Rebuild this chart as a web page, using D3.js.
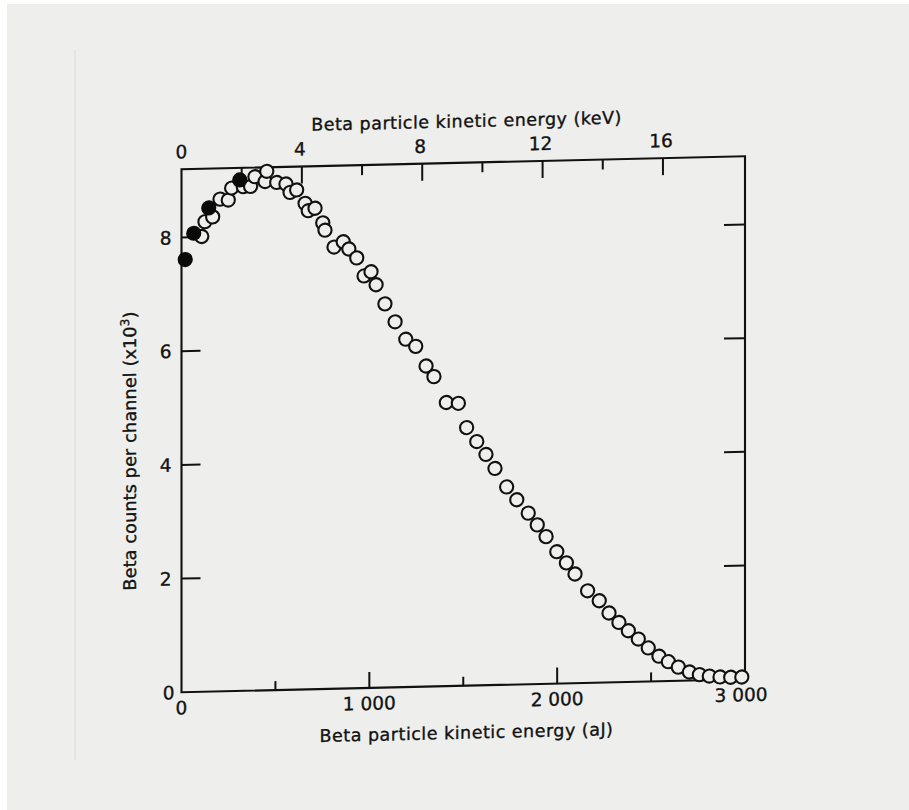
<!DOCTYPE html>
<html>
<head>
<meta charset="utf-8">
<script src="https://cdn.jsdelivr.net/npm/d3@7"></script>
<style>
  body { margin: 0; background: #ffffff; }
  text { font-family: "DejaVu Sans", sans-serif; fill: #121212; stroke: #121212; stroke-width: 0.35px; }
</style>
</head>
<body>
<div id="chart"></div>
<script>
// open circles: energy (aJ) and counts per channel (x10^3)
const openEnergy = [108, 125, 166, 205, 249, 267, 329, 368, 391, 445, 454, 507, 556, 578, 613,
  658, 675, 711, 752, 764, 812, 861, 891, 933, 972, 1009, 1036, 1083, 1137, 1194, 1247, 1302,
  1344, 1410, 1474, 1518, 1572, 1621, 1669, 1731, 1785, 1846, 1894, 1941, 1998, 2049, 2095,
  2162, 2224, 2276, 2329, 2379, 2432, 2485, 2542, 2592, 2645, 2704, 2757, 2810, 2867, 2924, 2983];
const openCounts = [8.01, 8.27, 8.35, 8.66, 8.64, 8.85, 8.87, 8.87, 9.04, 8.95, 9.13, 8.93, 8.90,
  8.75, 8.79, 8.55, 8.42, 8.46, 8.20, 8.07, 7.77, 7.86, 7.73, 7.57, 7.25, 7.32, 7.09, 6.75, 6.43,
  6.12, 5.99, 5.64, 5.45, 4.99, 4.97, 4.54, 4.29, 4.06, 3.81, 3.48, 3.25, 3.01, 2.80, 2.59, 2.32,
  2.12, 1.92, 1.62, 1.44, 1.22, 1.05, 0.90, 0.75, 0.59, 0.44, 0.34, 0.24, 0.15, 0.10, 0.07, 0.05,
  0.04, 0.04];

// filled circles
const filledEnergy = [20, 65, 145, 310];
const filledCounts = [7.61, 8.07, 8.51, 8.99];

const bottomTicks = [0, 500, 1000, 1500, 2000, 2500, 3000];
const bottomLabels = ["0", "", "1 000", "", "2 000", "", "3 000"];
const topTicks = [0, 2, 4, 6, 8, 10, 12, 14, 16];
const topLabels = ["0", "", "4", "", "8", "", "12", "", "16"];
const yTicks = [0, 2, 4, 6, 8];
const yLabels = ["0", "2", "4", "6", "8"];

const AJ_PER_KEV = 160.2;

const width = 909, height = 810;
const plotW = 563.5, plotH = 523;

const svg = d3.select("#chart")
  .append("svg")
  .attr("width", width)
  .attr("height", height);

// paper
svg.append("rect")
  .attr("x", 7).attr("y", 4)
  .attr("width", width - 7).attr("height", height - 4)
  .attr("fill", "#eeeeec");
svg.append("line")
  .attr("x1", 75).attr("x2", 75)
  .attr("y1", 50).attr("y2", 760)
  .attr("stroke", "#dcdcda")
  .attr("stroke-width", 1);

// the scan is slightly sheared
const g = svg.append("g")
  .attr("transform", "translate(181.5,169.3) skewY(-1.33)");

const x = d3.scaleLinear().domain([0, 3000]).range([0, plotW]);
const xKev = d3.scaleLinear().domain([0, 3000 / AJ_PER_KEV]).range([0, plotW]);
const y = d3.scaleLinear().domain([0, 9.2]).range([plotH, 0]);

// frame
g.append("rect")
  .attr("width", plotW)
  .attr("height", plotH)
  .attr("fill", "none")
  .attr("stroke", "#111")
  .attr("stroke-width", 2.1);

// bottom ticks (inward)
g.append("g")
  .selectAll("line")
  .data(bottomTicks.filter(d => d > 0 && d < 3000))
  .join("line")
  .attr("x1", d => x(d)).attr("x2", d => x(d))
  .attr("y1", plotH)
  .attr("y2", d => plotH - (d % 1000 === 0 ? 16 : 9))
  .attr("stroke", "#111")
  .attr("stroke-width", 2);

g.append("g")
  .selectAll("text")
  .data(bottomTicks)
  .join("text")
  .attr("x", d => x(d) + (d === 3000 ? -4 : 0))
  .attr("y", plotH + 22)
  .attr("text-anchor", "middle")
  .style("font-size", "18.5px")
  .text((d, i) => bottomLabels[i]);

// top ticks (keV)
g.append("g")
  .selectAll("line")
  .data(topTicks.filter(d => d > 0))
  .join("line")
  .attr("x1", d => xKev(d)).attr("x2", d => xKev(d))
  .attr("y1", 0)
  .attr("y2", d => (d % 4 === 0 ? 17 : 10))
  .attr("stroke", "#111")
  .attr("stroke-width", 2);

g.append("g")
  .selectAll("text")
  .data(topTicks)
  .join("text")
  .attr("x", d => xKev(d) - (d > 0 ? 2 : 0))
  .attr("y", -11)
  .attr("text-anchor", "middle")
  .style("font-size", "18.5px")
  .text((d, i) => topLabels[i]);

// left and right ticks
g.append("g")
  .selectAll("line")
  .data(yTicks.filter(d => d > 0))
  .join("line")
  .attr("x1", 0).attr("x2", 19)
  .attr("y1", d => y(d)).attr("y2", d => y(d))
  .attr("stroke", "#111")
  .attr("stroke-width", 2);

g.append("g")
  .selectAll("line")
  .data(yTicks.filter(d => d > 0))
  .join("line")
  .attr("x1", plotW).attr("x2", plotW - 21)
  .attr("y1", d => y(d)).attr("y2", d => y(d))
  .attr("stroke", "#111")
  .attr("stroke-width", 2);

g.append("g")
  .selectAll("text")
  .data(yTicks)
  .join("text")
  .attr("x", d => (d === 0 ? -7 : -10))
  .attr("y", d => y(d))
  .attr("dy", "0.36em")
  .attr("text-anchor", "end")
  .style("font-size", "18.5px")
  .text((d, i) => yLabels[i]);

// titles
g.append("text")
  .attr("x", 285)
  .attr("y", -35.5)
  .attr("text-anchor", "middle")
  .style("font-size", "17.5px")
  .style("letter-spacing", "0.5px")
  .text("Beta particle kinetic energy (keV)");

g.append("text")
  .attr("x", 285)
  .attr("y", plotH + 53)
  .attr("text-anchor", "middle")
  .style("font-size", "17.5px")
  .style("letter-spacing", "0.5px")
  .text("Beta particle kinetic energy (aJ)");

const yTitle = g.append("text")
  .attr("transform", `translate(-45.5,${plotH / 2 + 19}) rotate(-90)`)
  .attr("text-anchor", "middle")
  .style("font-size", "17.5px")
  .style("letter-spacing", "0.2px");
yTitle.append("tspan").text("Beta counts per channel (x10");
yTitle.append("tspan").attr("dy", -7).style("font-size", "12px").text("3");
yTitle.append("tspan").attr("dy", 7).text(")");

// data points
const openData = openEnergy.map((e, i) => ({ e: e, c: openCounts[i] }));
const filledData = filledEnergy.map((e, i) => ({ e: e, c: filledCounts[i] }));

g.append("g")
  .selectAll("circle")
  .data(openData)
  .join("circle")
  .attr("cx", d => x(d.e))
  .attr("cy", d => y(d.c))
  .attr("r", 6.6)
  .attr("fill", "#eeeeec")
  .attr("stroke", "#111")
  .attr("stroke-width", 2.1);

g.append("g")
  .selectAll("circle")
  .data(filledData)
  .join("circle")
  .attr("cx", d => x(d.e))
  .attr("cy", d => y(d.c))
  .attr("r", 7.6)
  .attr("fill", "#0a0a0a");
</script>
</body>
</html>
